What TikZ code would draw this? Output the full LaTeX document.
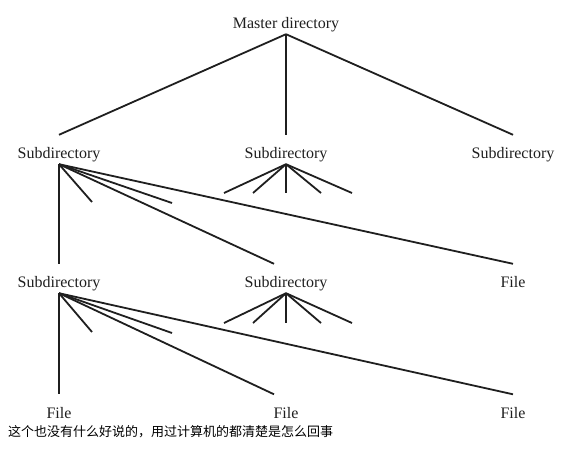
\documentclass[tikz,border=0pt]{standalone}
\usepackage{fontspec}
\setmainfont{Liberation Serif}
\newfontfamily\cjk{Noto Sans CJK SC}
\begin{document}
\begin{tikzpicture}[x=1pt,y=-1pt,
  lbl/.style={anchor=base,inner xsep=0pt,inner ysep=0.5pt,text height=23pt,text depth=5pt,
    font=\fontsize{16}{19}\selectfont,text=black!88},
  ln/.style={line width=1.8pt,draw=black!88}]
\useasboundingbox (0,0) rectangle (561,450);
\node[lbl] (m) at (286,28.5) {Master directory};
\node[lbl] (s1l) at (59,158.5) {Subdirectory};
\node[lbl] (s1m) at (286,158.5) {Subdirectory};
\node[lbl] (s1r) at (513,158.5) {Subdirectory};
\node[lbl] (s2l) at (59,287.5) {Subdirectory};
\node[lbl] (s2m) at (286,287.5) {Subdirectory};
\node[lbl] (f1r) at (513,287.5) {File};
\node[lbl] (f2l) at (59,418) {File};
\node[lbl] (f2m) at (286,418) {File};
\node[lbl] (f2r) at (513,418) {File};
\node[anchor=west,inner sep=0pt,font=\cjk\fontsize{13}{15}\selectfont] (cap) at (8,432)
  {这个也没有什么好说的，用过计算机的都清楚是怎么回事};
% free ends
\coordinate (a1) at (92,202);
\coordinate (a2) at (172,203);
\coordinate (b1) at (224,193);
\coordinate (b2) at (253,193);
\coordinate (b3) at (286,193);
\coordinate (b4) at (321,193);
\coordinate (b5) at (352,193);
\coordinate (c1) at (92,332);
\coordinate (c2) at (172,333);
\coordinate (d1) at (224,323);
\coordinate (d2) at (253,323);
\coordinate (d3) at (286,323);
\coordinate (d4) at (321,323);
\coordinate (d5) at (352,323);
% master
\draw[ln] (m.south) -- (s1l.north);
\draw[ln] (m.south) -- (s1m.north);
\draw[ln] (m.south) -- (s1r.north);
% level 1 left
\draw[ln] (s1l.south) -- (s2l.north);
\draw[ln] (s1l.south) -- (a1);
\draw[ln] (s1l.south) -- (a2);
\draw[ln] (s1l.south) -- ([xshift=-12pt]s2m.north);
\draw[ln] (s1l.south) -- (f1r.north);
% level 1 middle fan
\foreach \p in {b1,b2,b3,b4,b5} \draw[ln] (s1m.south) -- (\p);
% level 2 left
\draw[ln] (s2l.south) -- (f2l.north);
\draw[ln] (s2l.south) -- (c1);
\draw[ln] (s2l.south) -- (c2);
\draw[ln] (s2l.south) -- ([xshift=-12pt]f2m.north);
\draw[ln] (s2l.south) -- (f2r.north);
% level 2 middle fan
\foreach \p in {d1,d2,d3,d4,d5} \draw[ln] (s2m.south) -- (\p);
\end{tikzpicture}
\end{document}
